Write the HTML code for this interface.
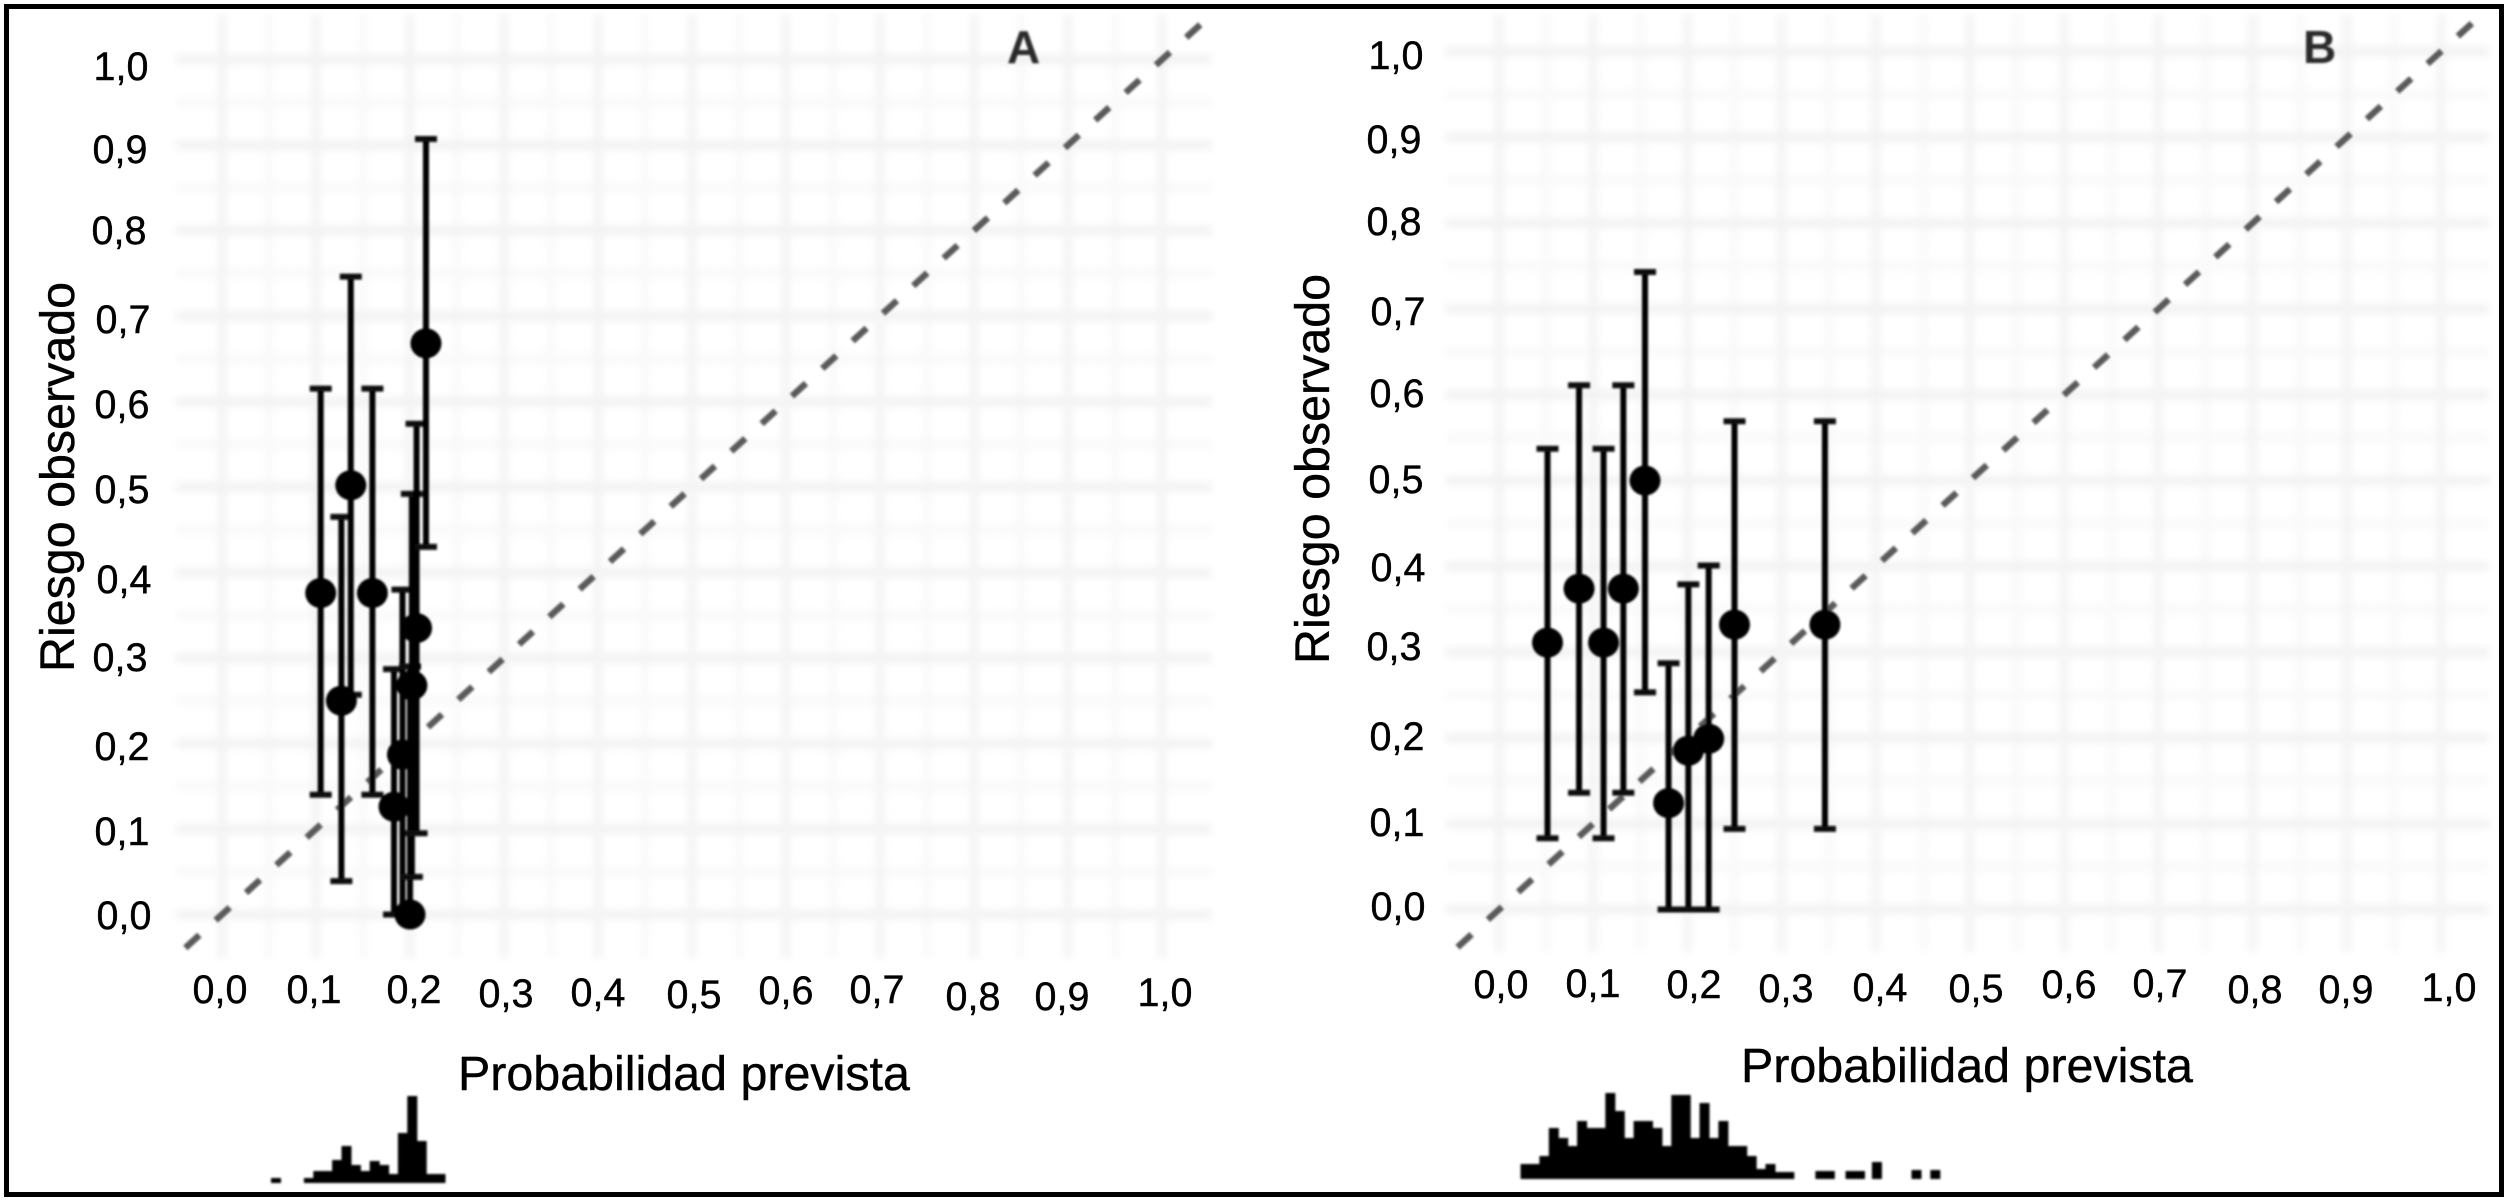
<!DOCTYPE html>
<html lang="es">
<head>
<meta charset="utf-8">
<title>Calibración: riesgo observado frente a probabilidad prevista</title>
<style>
html,body{margin:0;padding:0;background:#fff;width:2508px;height:1202px;overflow:hidden}
svg{display:block}
text{font-family:"Liberation Sans",Arial,sans-serif;fill:#000}
.tick{font-size:39.5px;text-anchor:middle;stroke:#000;stroke-width:0.4px}
.title{font-size:48.4px;stroke:#000;stroke-width:0.4px}
.letter{font-size:46px;font-weight:bold;fill:#2a2a2a}
</style>
</head>
<body>
<svg id="chart" xmlns="http://www.w3.org/2000/svg" width="2508" height="1202" viewBox="0 0 2508 1202">
<defs>
<filter id="blurGrid" x="-5%" y="-5%" width="110%" height="110%"><feGaussianBlur stdDeviation="4"/></filter>
<filter id="blurMark" x="-5%" y="-5%" width="110%" height="110%"><feGaussianBlur stdDeviation="1.1"/></filter>
<filter id="blurLetter" x="-30%" y="-30%" width="160%" height="160%"><feGaussianBlur stdDeviation="1.1"/></filter>
</defs>
<rect x="0" y="0" width="2508" height="1202" fill="#fff"/>
<g id="panelA"></g>
<g id="panelB"></g>

<g>
<text class="tick" x="121" y="80">1,0</text><text class="tick" x="120" y="163">0,9</text><text class="tick" x="119" y="244">0,8</text><text class="tick" x="123" y="333">0,7</text><text class="tick" x="122" y="418">0,6</text><text class="tick" x="122" y="503">0,5</text><text class="tick" x="124" y="593">0,4</text><text class="tick" x="120" y="671">0,3</text><text class="tick" x="122" y="760">0,2</text><text class="tick" x="122" y="845">0,1</text><text class="tick" x="124" y="929">0,0</text>
</g>
<g>
<text class="tick" x="220" y="1003">0,0</text><text class="tick" x="314" y="1003">0,1</text><text class="tick" x="414" y="1003">0,2</text><text class="tick" x="506" y="1007">0,3</text><text class="tick" x="598" y="1006">0,4</text><text class="tick" x="694" y="1008">0,5</text><text class="tick" x="786" y="1004">0,6</text><text class="tick" x="877" y="1003">0,7</text><text class="tick" x="973" y="1010">0,8</text><text class="tick" x="1062" y="1010">0,9</text><text class="tick" x="1165" y="1006">1,0</text>
</g>
<text class="title" transform="translate(74 672) rotate(-90)">Riesgo observado</text>
<text class="title" x="458" y="1090">Probabilidad prevista</text>
<text class="letter" x="1007" y="63" filter="url(#blurLetter)">A</text>

<g>
<text class="tick" x="1396" y="69">1,0</text><text class="tick" x="1394" y="153">0,9</text><text class="tick" x="1394" y="235">0,8</text><text class="tick" x="1398" y="325">0,7</text><text class="tick" x="1397" y="407">0,6</text><text class="tick" x="1396" y="493">0,5</text><text class="tick" x="1398" y="581">0,4</text><text class="tick" x="1394" y="660">0,3</text><text class="tick" x="1397" y="750">0,2</text><text class="tick" x="1397" y="836">0,1</text><text class="tick" x="1398" y="920">0,0</text>
</g>
<g>
<text class="tick" x="1501" y="998">0,0</text><text class="tick" x="1593" y="997">0,1</text><text class="tick" x="1694" y="998">0,2</text><text class="tick" x="1786" y="1002">0,3</text><text class="tick" x="1880" y="1001">0,4</text><text class="tick" x="1976" y="1002">0,5</text><text class="tick" x="2069" y="998">0,6</text><text class="tick" x="2160" y="997">0,7</text><text class="tick" x="2255" y="1003">0,8</text><text class="tick" x="2346" y="1003">0,9</text><text class="tick" x="2449" y="1001">1,0</text>
</g>
<text class="title" transform="translate(1329 664) rotate(-90)">Riesgo observado</text>
<text class="title" x="1741" y="1082">Probabilidad prevista</text>
<text class="letter" x="2303" y="63" filter="url(#blurLetter)">B</text>

<rect x="6.5" y="6.5" width="2495" height="1188" fill="none" stroke="#000" stroke-width="5"/>
</svg>
<script>
var gridMajor = [0, 0.1, 0.2, 0.3, 0.4, 0.5, 0.6, 0.7, 0.8, 0.9, 1.0];
var gridMinor = [0.05, 0.15, 0.25, 0.35, 0.45, 0.55, 0.65, 0.75, 0.85, 0.95];

var aPred = [0.105, 0.127, 0.137, 0.160, 0.183, 0.192, 0.200, 0.202, 0.207, 0.217];
var aObs  = [0.376, 0.250, 0.502, 0.376, 0.126, 0.187, 0.000, 0.268, 0.335, 0.668];
var aLow  = [0.140, 0.039, 0.257, 0.140, 0.000, 0.000, 0.000, 0.044, 0.095, 0.430];
var aHigh = [0.615, 0.465, 0.746, 0.615, 0.287, 0.380, 0.290, 0.492, 0.574, 0.907];
var aHistBins = [0.055, 0.09, 0.10, 0.11, 0.12, 0.13, 0.14, 0.15, 0.16, 0.17, 0.18, 0.19, 0.20, 0.21, 0.22, 0.23];
var aHistFreq = [5, 5, 12, 12, 23, 37, 18, 12, 22, 18, 9, 50, 87, 42, 9, 9];

var bPred = [0.0515, 0.085, 0.111, 0.132, 0.155, 0.180, 0.201, 0.2226, 0.250, 0.346];
var bObs  = [0.311, 0.374, 0.311, 0.374, 0.500, 0.124, 0.185, 0.199, 0.332, 0.332];
var bLow  = [0.083, 0.136, 0.083, 0.136, 0.253, 0.000, 0.000, 0.000, 0.094, 0.094];
var bHigh = [0.537, 0.611, 0.537, 0.611, 0.743, 0.287, 0.379, 0.401, 0.569, 0.569];
var bHistBins = [0.03, 0.04, 0.05, 0.06, 0.07, 0.08, 0.09, 0.10, 0.11, 0.12, 0.13, 0.14, 0.15, 0.16, 0.17, 0.18, 0.19, 0.20, 0.21, 0.22, 0.23, 0.24, 0.25, 0.26, 0.27, 0.28, 0.29, 0.30, 0.31, 0.343, 0.353, 0.375, 0.385, 0.403, 0.445, 0.465];
var bHistFreq = [15, 15, 23, 51, 41, 33, 58, 51, 51, 86, 68, 41, 58, 58, 51, 33, 84, 84, 41, 76, 41, 58, 33, 33, 23, 10, 15, 7, 7, 8, 8, 8, 8, 17, 9, 9];

var NS = 'http://www.w3.org/2000/svg';

function make(parent, tag, attrs) {
  var el = document.createElementNS(NS, tag);
  for (var k in attrs) el.setAttribute(k, attrs[k]);
  parent.appendChild(el);
  return el;
}

function drawPanel(rootId, cfg, pred, obs, low, high, histBins, histFreq) {
  var root = document.getElementById(rootId);
  var xScale = function (v) { return cfg.x0 + cfg.xUnit * v; };
  var yScale = function (v) { return cfg.y0 - cfg.yUnit * v; };
  var histX = function (v) { return cfg.hx0 + cfg.xUnit * v; };

  var grid = make(root, 'g', { filter: 'url(#blurGrid)' });
  
  
  gridMinor.forEach(function (v) {
    var h = make(grid, 'line', { x1: cfg.left, x2: cfg.right, y1: yScale(v), y2: yScale(v), stroke: '#f9f9f9', 'stroke-width': 9 });
    
    
    var w = make(grid, 'line', { x1: xScale(v), x2: xScale(v), y1: cfg.top, y2: cfg.bottom, stroke: '#f9f9f9', 'stroke-width': 9 });
    
    
  });
  gridMajor.forEach(function (v) {
    var h = make(grid, 'line', { x1: cfg.left, x2: cfg.right, y1: yScale(v), y2: yScale(v), stroke: '#f2f2f2', 'stroke-width': 9 });
    
    
    var w = make(grid, 'line', { x1: xScale(v), x2: xScale(v), y1: cfg.top, y2: cfg.bottom, stroke: '#f4f4f4', 'stroke-width': 9 });
    
    
  });

  var marks = make(root, 'g', { filter: 'url(#blurMark)' });
  
  

  var diag = make(marks, 'line', {
    x1: xScale(cfg.diagFrom), y1: yScale(cfg.diagFrom),
    x2: xScale(cfg.diagTo), y2: yScale(cfg.diagTo),
    stroke: '#5a5a5a', 'stroke-width': 6.5, 'stroke-dasharray': '19 22'
  });
  
  

  pred.forEach(function (p, i) {
    var cx = xScale(p);
    var bar = make(marks, 'line', { x1: cx, x2: cx, y1: yScale(high[i]), y2: yScale(low[i]), stroke: '#000', 'stroke-width': 6 });
    
    
    var capTop = make(marks, 'line', { x1: cx - 11, x2: cx + 11, y1: yScale(high[i]), y2: yScale(high[i]), stroke: '#111', 'stroke-width': 6 });
    
    
    var capLow = make(marks, 'line', { x1: cx - 11, x2: cx + 11, y1: yScale(low[i]), y2: yScale(low[i]), stroke: '#111', 'stroke-width': 6 });
    
    
  });
  pred.forEach(function (p, i) {
    var dot = make(marks, 'ellipse', { cx: xScale(p), cy: yScale(obs[i]), rx: 15.5, ry: 15, fill: '#000' });
    
    
  });

  var hist = make(root, 'g', { filter: 'url(#blurMark)' });
  
  
  histBins.forEach(function (b, i) {
    var h = histFreq[i];
    var r = make(hist, 'rect', {
      x: histX(b) - cfg.binPx / 2, y: cfg.histBase - h,
      width: cfg.binPx + 0.6, height: h, fill: '#000'
    });
    
    
  });
}

drawPanel('panelA', {
  x0: 222, xUnit: 940, y0: 914.5, yUnit: 855,
  left: 176, right: 1212, top: 14, bottom: 958,
  diagFrom: -0.039, diagTo: 1.046,
  hx0: 224, binPx: 9.4, histBase: 1183
}, aPred, aObs, aLow, aHigh, aHistBins, aHistFreq);

drawPanel('panelB', {
  x0: 1499, xUnit: 942, y0: 909.5, yUnit: 858,
  left: 1446, right: 2489, top: 14, bottom: 952,
  diagFrom: -0.044, diagTo: 1.043,
  hx0: 1497, binPx: 9.4, histBase: 1179
}, bPred, bObs, bLow, bHigh, bHistBins, bHistFreq);
</script>
</body>
</html>
